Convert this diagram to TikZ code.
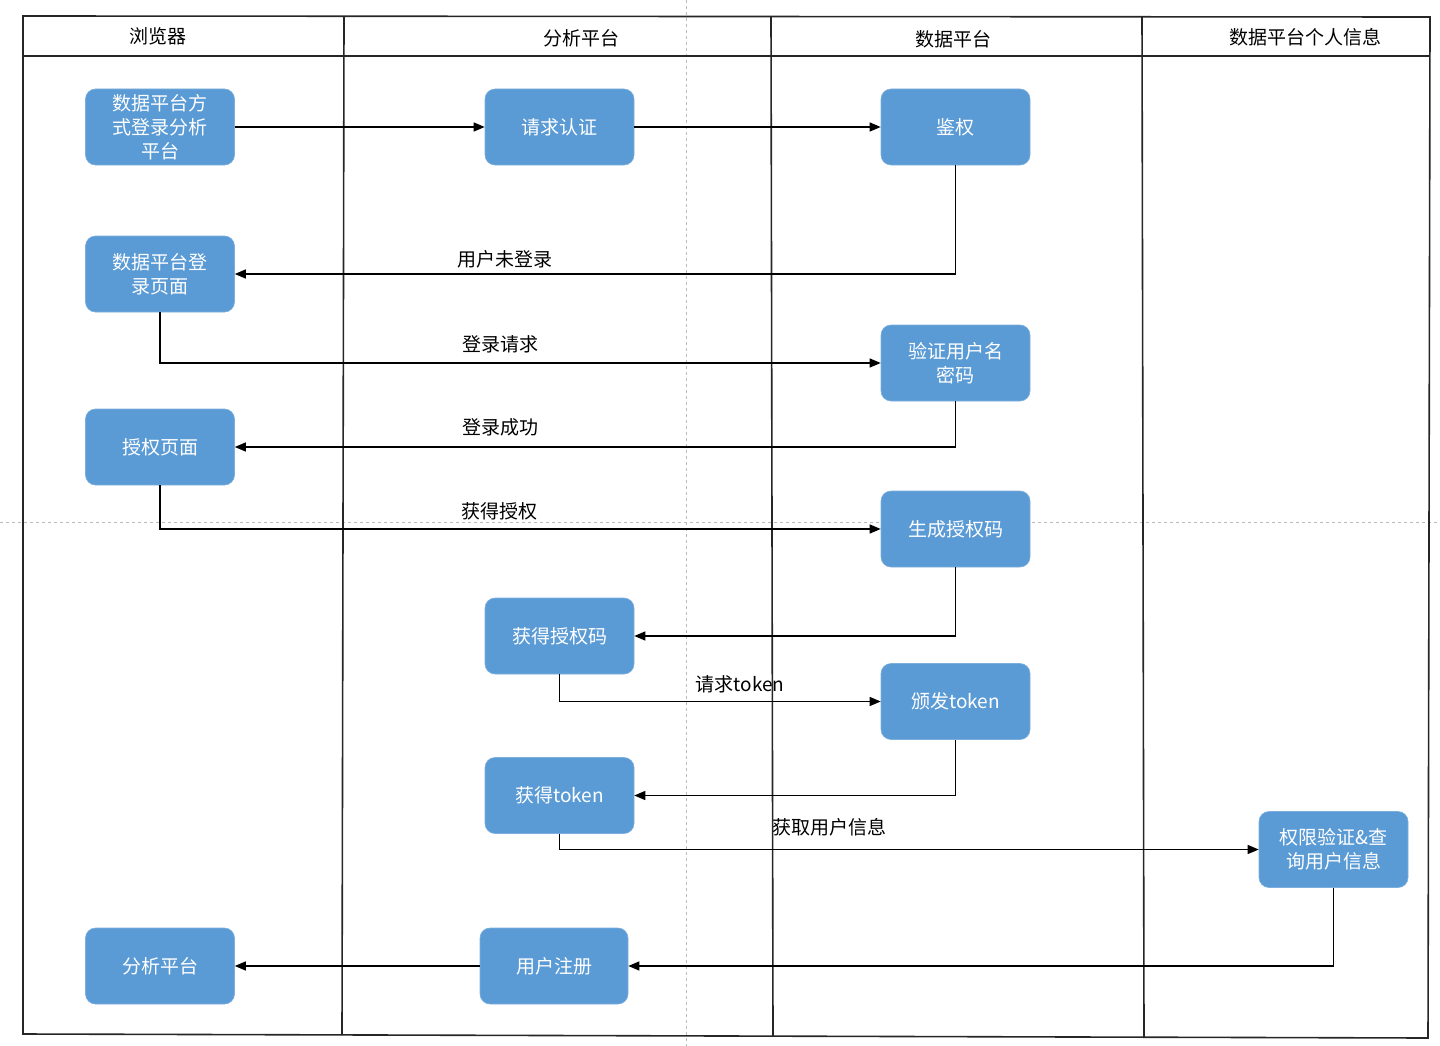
\documentclass[tikz,border=0pt]{standalone}
\usepackage{fontspec}
\setmainfont{Noto Sans CJK SC}
\usetikzlibrary{arrows.meta}
\definecolor{boxblue}{HTML}{5B9BD5}
\definecolor{pagegray}{HTML}{BBBBBB}
\tikzset{
  box/.style={fill=boxblue, draw=boxblue!80!white, line width=0.6pt, rounded corners=10pt,
    minimum width=149pt, minimum height=76pt, text=white, align=center,
    font=\fontsize{19}{24}\selectfont, inner sep=2pt},
  lbl/.style={font=\fontsize{19}{24}\selectfont, inner sep=1pt},
  hdr/.style={font=\fontsize{19}{24}\selectfont, inner sep=1pt},
  arr/.style={line width=1.3pt, -{Triangle[length=11pt,width=9pt]}},
  frame/.style={line width=1.6pt, black!85},
  pageline/.style={line width=0.8pt, pagegray, dash pattern=on 3pt off 3pt}
}
\begin{document}
\begin{tikzpicture}[x=1pt,y=-1pt]
\useasboundingbox (0,0) rectangle (1440,1046);
% page break guides
\draw[pageline] (686,0) -- (686,1046);
\draw[pageline] (0,522) -- (1440,522);
% swimlane frame
\draw[frame] (23,16) -- (1430,17) -- (1428,1038) -- (23,1034) -- cycle;
\draw[frame] (23,56) -- (1430,56);
\draw[frame] (344,17) -- (342,1035);
\draw[frame] (771,17) -- (773,1036);
\draw[frame] (1142,17) -- (1144,1037);
% headers
\node[hdr] (h1) at (158,36) {浏览器};
\node[hdr] (h2) at (581,38) {分析平台};
\node[hdr] (h3) at (953,39) {数据平台};
\node[hdr] (h4) at (1305,37) {数据平台个人信息};
% boxes
\node[box] (n1) at (160,127) {数据平台方\\式登录分析\\平台};
\node[box] (n2) at (559.5,127) {请求认证};
\node[box] (n3) at (955.5,127) {鉴权};
\node[box] (n4) at (160,274) {数据平台登\\录页面};
\node[box] (n5) at (955.5,363) {验证用户名\\密码};
\node[box] (n6) at (160,447) {授权页面};
\node[box] (n7) at (955.5,529) {生成授权码};
\node[box] (n8) at (559.5,636) {获得授权码};
\node[box] (n9) at (955.5,701.5) {颁发token};
\node[box] (n10) at (559.5,795.5) {获得token};
\node[box] (n11) at (1333.5,849.5) {权限验证\&查\\询用户信息};
\node[box] (n12) at (160,966) {分析平台};
\node[box, minimum width=148pt] (n13) at (554,966) {用户注册};
% connectors
\draw[arr] (n1) -- (n2);
\draw[arr] (n2) -- (n3);
\draw[arr] (n3.south) |- (n4.east);
\draw[arr] (n4.south) |- (n5.west);
\draw[arr] (n5.south) |- (n6.east);
\draw[arr] (n6.south) |- (n7.west);
\draw[arr] (n7.south) |- (n8.east);
\draw[arr] (n8.south) |- (n9.west);
\draw[arr] (n9.south) |- (n10.east);
\draw[arr] (n10.south) |- (n11.west);
\draw[arr] (n11.south) |- (n13.east);
\draw[arr] (n13) -- (n12);
% connector labels
\node[lbl] (l1) at (505,259) {用户未登录};
\node[lbl] (l2) at (500,344) {登录请求};
\node[lbl] (l3) at (500,427) {登录成功};
\node[lbl] (l4) at (499,511) {获得授权};
\node[lbl] (l5) at (740,684) {请求token};
\node[lbl] (l6) at (829,827) {获取用户信息};
\end{tikzpicture}
\end{document}
